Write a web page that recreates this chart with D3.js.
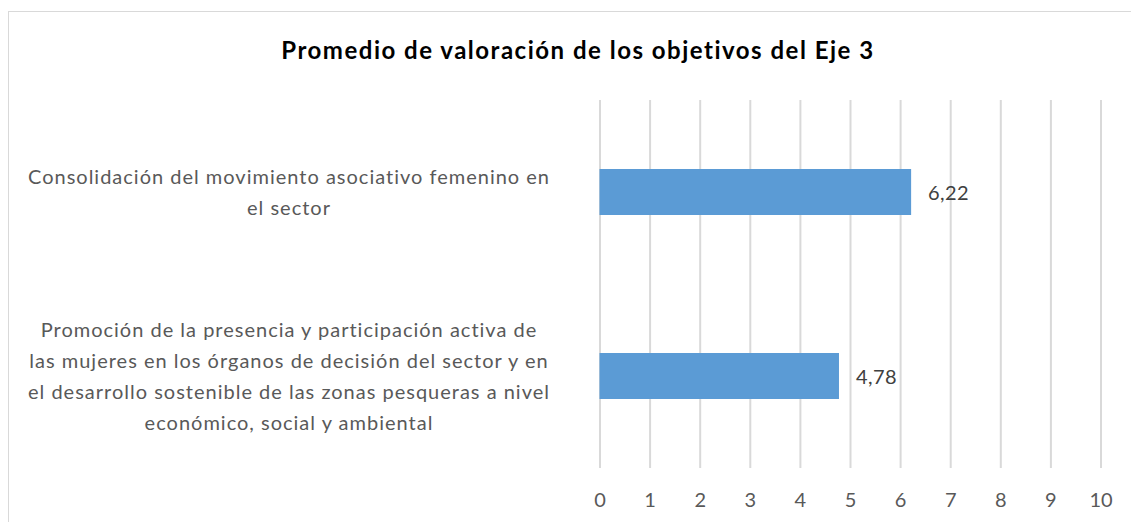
<!DOCTYPE html>
<html><head><meta charset="utf-8">
<script src="https://cdn.jsdelivr.net/npm/d3@7"></script>
<style>body{margin:0;background:#fff}svg{display:block}text{font-family:Lato,"Open Sans",sans-serif}</style>
</head><body>
<svg id="c" width="1131" height="522"></svg>
<script>
const title = "Promedio de valoración de los objetivos del Eje 3";
const categories = [
  "Consolidación del movimiento asociativo femenino en\nel sector",
  "Promoción de la presencia y participación activa de\nlas mujeres en los órganos de decisión del sector y en\nel desarrollo sostenible de las zonas pesqueras a nivel\neconómico, social y ambiental"
];
const values = [6.22, 4.78];
const valueLabels = ["6,22", "4,78"];
const xTicks = [0,1,2,3,4,5,6,7,8,9,10];

const svg = d3.select("#c");
svg.append("rect").attr("x",8.5).attr("y",11.5).attr("width",1140).attr("height",540)
  .attr("fill","#fff").attr("stroke","#d9d9d9").attr("stroke-width",1);

svg.append("text").attr("x",578).attr("y",58.5).attr("text-anchor","middle")
  .attr("font-size",24).attr("font-weight","bold").attr("letter-spacing",1.5)
  .attr("fill","#000").text(title);

const x = d3.scaleLinear().domain([0,10]).range([599.5,1100.5]);
const y = d3.scaleBand().domain(categories).range([100,468]).paddingInner(0.75).paddingOuter(0.375);

const g = svg.append("g");
const xAxis = g.append("g").attr("transform","translate(0,100)")
  .call(d3.axisBottom(x).tickValues(xTicks).tickSize(368).tickPadding(0).tickFormat(d3.format("d")));
xAxis.select(".domain").remove();
xAxis.selectAll(".tick line").attr("stroke","#d9d9d9").attr("stroke-width",2);
xAxis.selectAll(".tick text").attr("fill","#595959").attr("font-size",20)
  .attr("y",400).attr("dy","0.36em");

g.selectAll("rect.bar").data(values).join("rect").attr("class","bar")
  .attr("x",x(0)).attr("y",(d,i)=>y(categories[i]))
  .attr("width",d=>x(d)-x(0)).attr("height",y.bandwidth()).attr("fill","#5b9bd5");

g.selectAll("text.vl").data(values).join("text").attr("class","vl")
  .attr("x",d=>x(d)+17).attr("y",(d,i)=>y(categories[i])+y.bandwidth()/2+1)
  .attr("dy","0.36em").attr("font-size",20).attr("letter-spacing",0.4)
  .attr("fill","#404040").text((d,i)=>valueLabels[i]);

const lh = 31;
categories.forEach((c,i)=>{
  const lines = c.split("\n");
  const cy = y(c)+y.bandwidth()/2;
  const t = g.append("text").attr("text-anchor","middle").attr("font-size",20)
    .attr("letter-spacing",1).attr("fill","#595959");
  lines.forEach((l,j)=>{
    t.append("tspan").attr("x",289).attr("y",cy+(j-(lines.length-1)/2)*lh).attr("dy","0.35em").text(l);
  });
});
</script>
</body></html>
